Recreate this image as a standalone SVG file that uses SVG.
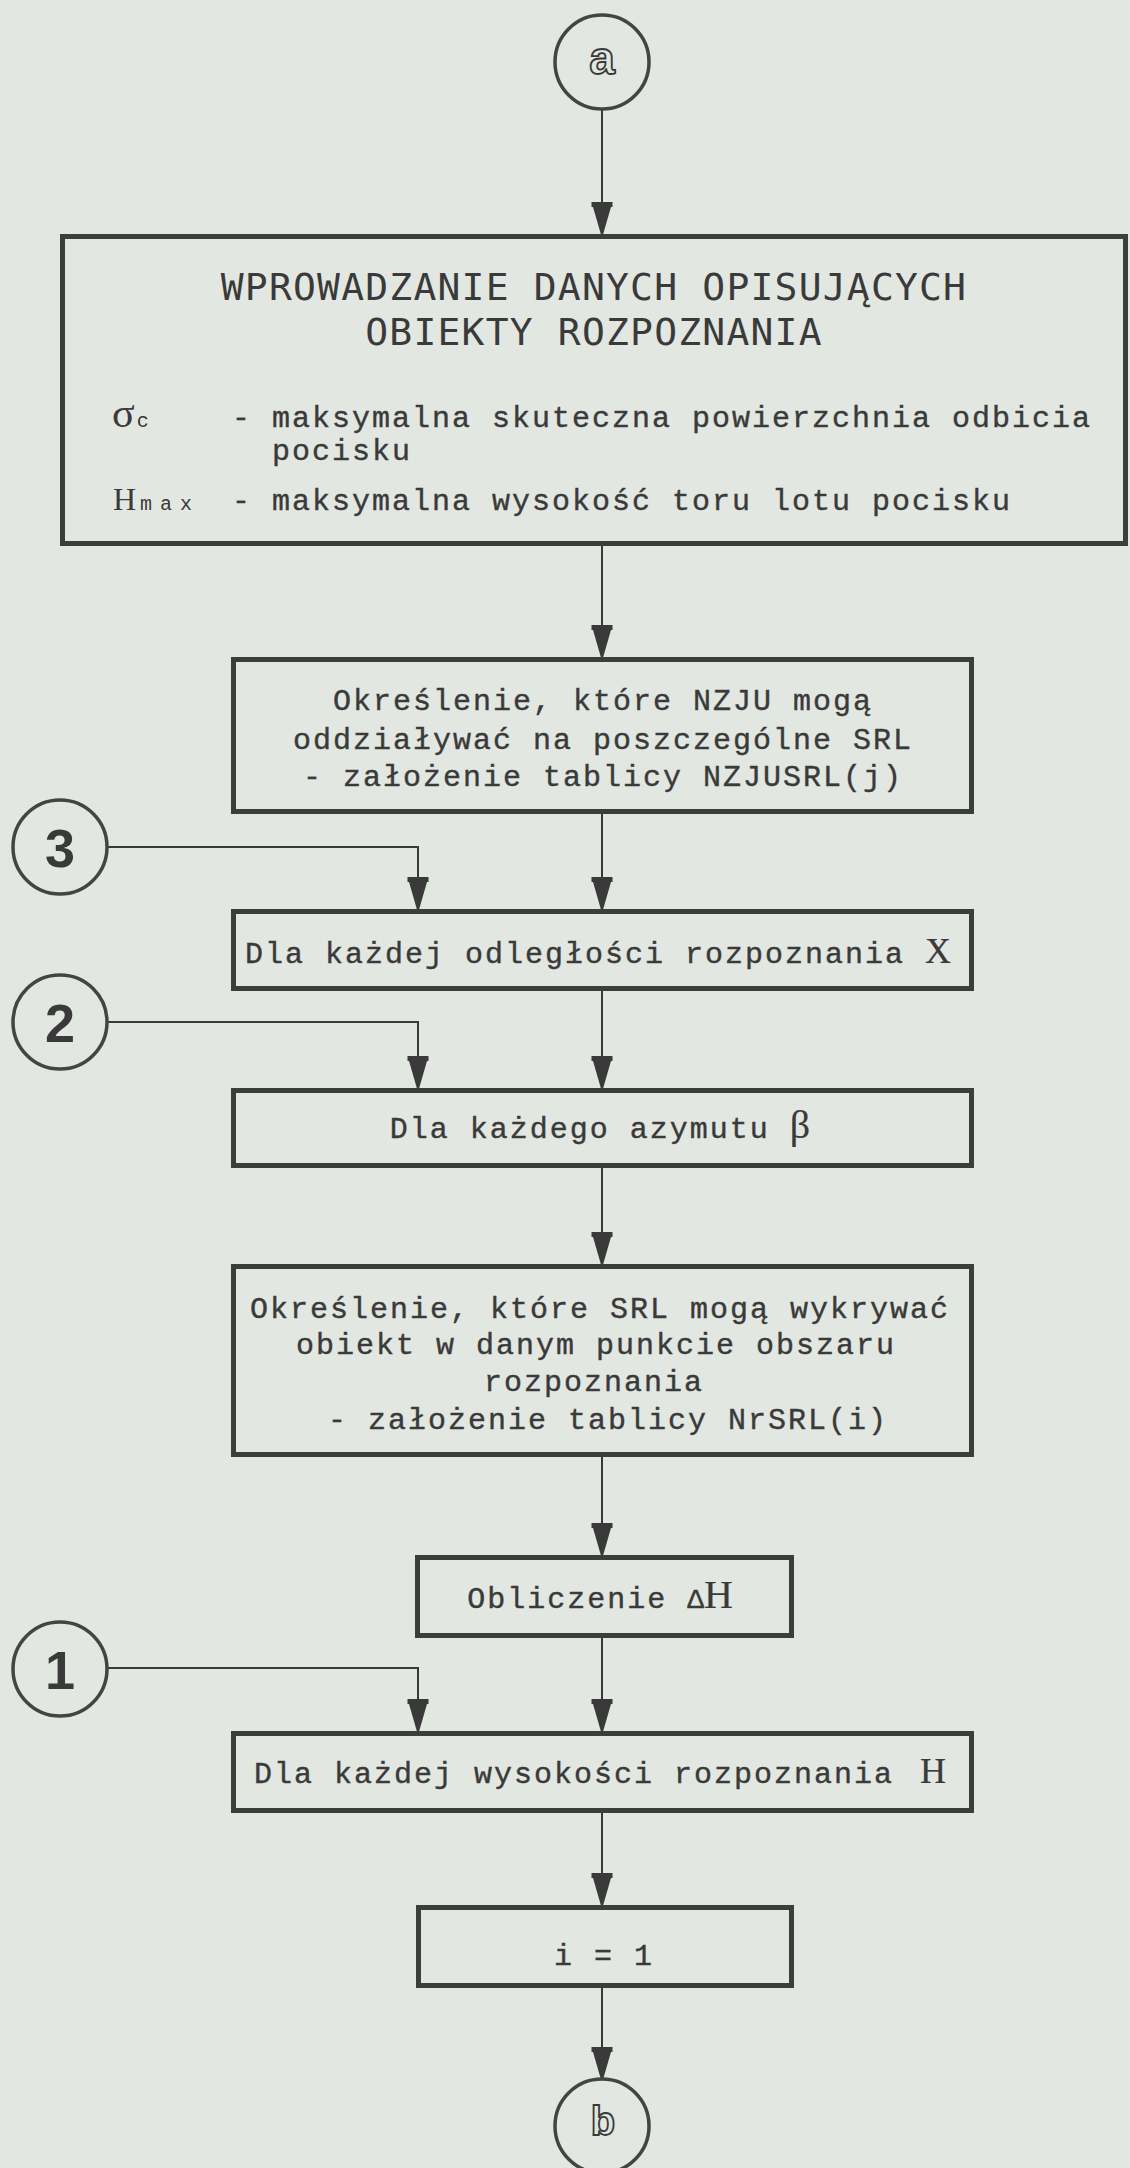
<svg xmlns="http://www.w3.org/2000/svg" width="1130" height="2168" viewBox="0 0 1130 2168">
<defs>
<marker id="arr" markerUnits="userSpaceOnUse" viewBox="-34 -12 36 24" markerWidth="36" markerHeight="24" refX="0" refY="0" orient="auto" overflow="visible">
<path d="M-32,-10.5 L-27,-10.5 L-27,-9 L0,-1.2 L0,1.2 L-27,9 L-27,10.5 L-32,10.5 Z" fill="#3a3a3a"/>
</marker>
<style>
.bg{fill:#e2e7e1}
.box{fill:none;stroke:#3d3d3d;stroke-width:5}
.conn{fill:none;stroke:#3a3a3a;stroke-width:2}
.circ{fill:none;stroke:#444;stroke-width:3.5}
.t{font-family:"Liberation Mono","DejaVu Sans Mono",monospace;font-size:30px;letter-spacing:2px;fill:#3a3a3a;stroke:#3a3a3a;stroke-width:0.4px}
.c{text-anchor:middle}
.title{font-family:"DejaVu Sans Mono","Liberation Mono",monospace;font-size:38px;letter-spacing:1.2px;fill:#3a3a3a;text-anchor:middle}
.sym{font-family:"Liberation Serif","DejaVu Serif",serif;font-size:36px;letter-spacing:0px;stroke-width:0.2px;fill:#3a3a3a}
.sub{font-family:"Liberation Mono","DejaVu Sans Mono",monospace;font-size:20px;letter-spacing:0px}
.num{font-family:"Liberation Sans",Arial,sans-serif;font-weight:bold;font-size:54px;fill:#3a3a3a;text-anchor:middle}
.let{font-family:"Liberation Sans",Arial,sans-serif;font-weight:bold;fill:#e2e7e1;stroke:#3a3a3a;stroke-width:1.8px;text-anchor:middle}
</style>
</defs>
<rect class="bg" x="0" y="0" width="1130" height="2168"/>

<g id="connectors">
<path class="conn" d="M602,109 V234" marker-end="url(#arr)"/>
<path class="conn" d="M602,546 V657" marker-end="url(#arr)"/>
<path class="conn" d="M602,814 V909" marker-end="url(#arr)"/>
<path class="conn" d="M107,847 H418 V909" marker-end="url(#arr)"/>
<path class="conn" d="M602,991 V1088" marker-end="url(#arr)"/>
<path class="conn" d="M107,1022 H418 V1088" marker-end="url(#arr)"/>
<path class="conn" d="M602,1168 V1264" marker-end="url(#arr)"/>
<path class="conn" d="M602,1457 V1555" marker-end="url(#arr)"/>
<path class="conn" d="M602,1638 V1731" marker-end="url(#arr)"/>
<path class="conn" d="M107,1668 H418 V1731" marker-end="url(#arr)"/>
<path class="conn" d="M602,1813 V1905" marker-end="url(#arr)"/>
<path class="conn" d="M602,1988 V2079" marker-end="url(#arr)"/>
</g>

<g id="conn-a">
<circle class="circ" cx="602" cy="62" r="47"/>
<text class="let" x="602" y="74" style="font-size:46px">a</text>
</g>

<g id="input-data">
<rect class="box" x="62.5" y="236.5" width="1063" height="307"/>
<text class="title" x="594" y="300">WPROWADZANIE DANYCH OPISUJĄCYCH</text>
<text class="title" x="594" y="345">OBIEKTY ROZPOZNANIA</text>
<text class="sym" x="112" y="427" style="font-size:42px">σ<tspan class="sub" dx="2">c</tspan></text>
<text class="t" x="232" y="427">- maksymalna skuteczna powierzchnia odbicia</text>
<text class="t" x="272" y="460">pocisku</text>
<text class="sym" x="113" y="510" style="font-size:32px">H<tspan class="sub" dx="4" textLength="52" lengthAdjust="spacing">max</tspan></text>
<text class="t" x="232" y="510">- maksymalna wysokość toru lotu pocisku</text>
</g>

<g id="nzju-srl">
<rect class="box" x="233.5" y="659.5" width="738" height="152"/>
<text class="t c" x="603" y="710">Określenie, które NZJU mogą</text>
<text class="t c" x="603" y="749">oddziaływać na poszczególne SRL</text>
<text class="t c" x="603" y="786">- założenie tablicy NZJUSRL(j)</text>
</g>

<g id="conn-3">
<circle class="circ" cx="60" cy="847" r="47"/>
<text class="num" x="60" y="867">3</text>
</g>

<g id="loop-x">
<rect class="box" x="233.5" y="911.5" width="738" height="77"/>
<text class="t c" x="598" y="963">Dla każdej odległości rozpoznania <tspan class="sym">X</tspan></text>
</g>

<g id="conn-2">
<circle class="circ" cx="60" cy="1022" r="47"/>
<text class="num" x="60" y="1042">2</text>
</g>

<g id="loop-beta">
<rect class="box" x="233.5" y="1090.5" width="738" height="75"/>
<text class="t c" x="600" y="1138">Dla każdego azymutu <tspan class="sym" style="font-size:40px">β</tspan></text>
</g>

<g id="srl-detect">
<rect class="box" x="233.5" y="1266.5" width="738" height="188"/>
<text class="t c" x="600" y="1318">Określenie, które SRL mogą wykrywać</text>
<text class="t c" x="596" y="1354">obiekt w danym punkcie obszaru</text>
<text class="t c" x="594" y="1391">rozpoznania</text>
<text class="t c" x="608" y="1429">- założenie tablicy NrSRL(i)</text>
</g>

<g id="delta-h">
<rect class="box" x="417.5" y="1557.5" width="374" height="78"/>
<text class="t c" x="600" y="1608">Obliczenie <tspan style="font-size:28px;letter-spacing:0px">Δ</tspan><tspan class="sym" style="font-size:40px">H</tspan></text>
</g>

<g id="conn-1">
<circle class="circ" cx="60" cy="1669" r="47"/>
<text class="num" x="60" y="1689">1</text>
</g>

<g id="loop-h">
<rect class="box" x="233.5" y="1733.5" width="738" height="77"/>
<text class="t c" x="600" y="1783">Dla każdej wysokości rozpoznania <tspan class="sym" dx="6">H</tspan></text>
</g>

<g id="init-i">
<rect class="box" x="418.5" y="1907.5" width="373" height="78"/>
<text class="t c" x="604" y="1965">i = 1</text>
</g>

<g id="conn-b">
<circle class="circ" cx="602" cy="2126" r="47"/>
<text class="let" x="603" y="2135" style="font-size:40px">b</text>
</g>
</svg>
